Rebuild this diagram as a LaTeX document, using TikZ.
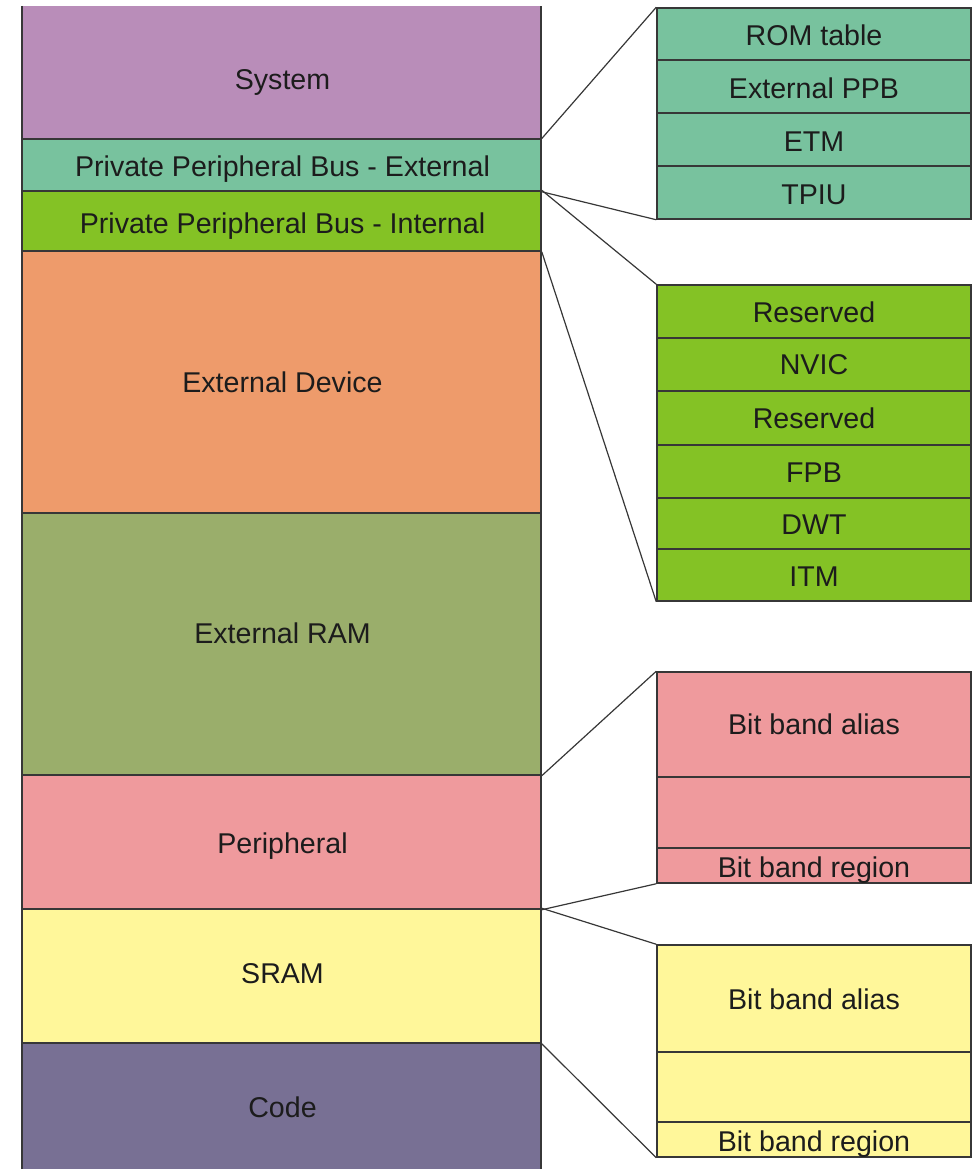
\documentclass[tikz,border=0pt]{standalone}
\usepackage{fontspec}
\setmainfont{Liberation Sans}
\usetikzlibrary{fit}

\definecolor{sysc}{RGB}{185,141,185}
\definecolor{extc}{RGB}{120,194,158}
\definecolor{intc}{RGB}{132,194,37}
\definecolor{devc}{RGB}{238,155,107}
\definecolor{ramc}{RGB}{154,174,107}
\definecolor{perc}{RGB}{239,154,157}
\definecolor{sramc}{RGB}{255,247,154}
\definecolor{codec}{RGB}{120,112,148}
\definecolor{edgec}{RGB}{55,55,55}
\definecolor{textc}{RGB}{28,28,28}

\tikzset{
  blk/.style={draw=edgec, line width=1.5pt, inner sep=0pt},
  openblk/.style={inner sep=0pt},
  sides/.style={draw=edgec, line width=1.5pt},
  txt/.style={inner sep=0pt, text height=20.5pt, text depth=0pt,
              font=\fontsize{28.6}{31}\selectfont, text=textc},
  link/.style={draw=edgec, line width=1.2pt},
}

\begin{document}
\begin{tikzpicture}[x=1pt, y=-1pt]
\useasboundingbox (0,0) rectangle (972,1169);

% ---- memory map column ----
\node[openblk, fill=sysc, fit={(22,6)(541,139)}] (sys) {};
\draw[sides] (sys.north west) -- (sys.south west) (sys.south east) -- (sys.north east);
\node[blk, fill=extc,  fit={(22,139)(541,191)}]  (ppbe) {};
\node[blk, fill=intc,  fit={(22,191)(541,251)}]  (ppbi) {};
\node[blk, fill=devc,  fit={(22,251)(541,513)}]  (dev) {};
\node[blk, fill=ramc,  fit={(22,513)(541,775)}]  (ram) {};
\node[blk, fill=perc,  fit={(22,775)(541,909)}]  (per) {};
\node[blk, fill=sramc, fit={(22,909)(541,1043)}] (sram) {};
\node[blk, fill=codec, fit={(22,1043)(541,1180)}] (code) {};

\node[txt] (sys-t)  at (282.5,79.5)  {System};
\node[txt] (ppbe-t) at (282.5,166)   {Private Peripheral Bus - External};
\node[txt] (ppbi-t) at (282.5,223)   {Private Peripheral Bus - Internal};
\node[txt] (dev-t)  at (282.5,382)   {External Device};
\node[txt] (ram-t)  at (282.5,633)   {External RAM};
\node[txt] (per-t)  at (282.5,843)   {Peripheral};
\node[txt] (sram-t) at (282.5,973)   {SRAM};
\node[txt] (code-t) at (282.5,1107.5) {Code};

% ---- external PPB detail ----
\node[blk, fill=extc, fit={(657,8)(971,60)}]    (rom) {};
\node[blk, fill=extc, fit={(657,60)(971,113)}]  (eppb) {};
\node[blk, fill=extc, fit={(657,113)(971,166)}] (etm) {};
\node[blk, fill=extc, fit={(657,166)(971,219)}] (tpiu) {};
\node[txt] at (814,35.5) {ROM table};
\node[txt] at (814,88)   {External PPB};
\node[txt] at (814,141.5) {ETM};
\node[txt] at (814,194)  {TPIU};

% ---- internal PPB detail ----
\node[blk, fill=intc, fit={(657,285)(971,338)}] (resa) {};
\node[blk, fill=intc, fit={(657,338)(971,391)}] (nvic) {};
\node[blk, fill=intc, fit={(657,391)(971,445)}] (resb) {};
\node[blk, fill=intc, fit={(657,445)(971,498)}] (fpb) {};
\node[blk, fill=intc, fit={(657,498)(971,549)}] (dwt) {};
\node[blk, fill=intc, fit={(657,549)(971,601)}] (itm) {};
\node[txt] at (814,312) {Reserved};
\node[txt] at (814,364) {NVIC};
\node[txt] at (814,418) {Reserved};
\node[txt] at (814,472) {FPB};
\node[txt] at (814,524) {DWT};
\node[txt] at (814,576) {ITM};

% ---- peripheral bit band ----
\node[blk, fill=perc, fit={(657,672)(971,777)}] (palias) {};
\node[blk, fill=perc, fit={(657,777)(971,848)}] (pgap) {};
\node[blk, fill=perc, fit={(657,848)(971,883)}] (pregion) {};
\node[txt] at (814,724.5) {Bit band alias};
\node[txt] at (814,867)   {Bit band region};

% ---- SRAM bit band ----
\node[blk, fill=sramc, fit={(657,945)(971,1052)}]  (salias) {};
\node[blk, fill=sramc, fit={(657,1052)(971,1122)}] (sgap) {};
\node[blk, fill=sramc, fit={(657,1122)(971,1157)}] (sregion) {};
\node[txt] at (814,999)  {Bit band alias};
\node[txt] at (814,1141) {Bit band region};

% ---- zoom connectors ----
\draw[link] (sys.south east)  -- (rom.north west);
\draw[link] (ppbe.south east) -- (tpiu.south west);
\draw[link] (ppbi.north east) -- (resa.north west);
\draw[link] (ppbi.south east) -- (itm.south west);
\draw[link] (ram.south east)  -- (palias.north west);
\draw[link] (per.south east)  -- (pregion.south west);
\draw[link] (sram.north east) -- (salias.north west);
\draw[link] (sram.south east) -- (sregion.south west);
\end{tikzpicture}
\end{document}
